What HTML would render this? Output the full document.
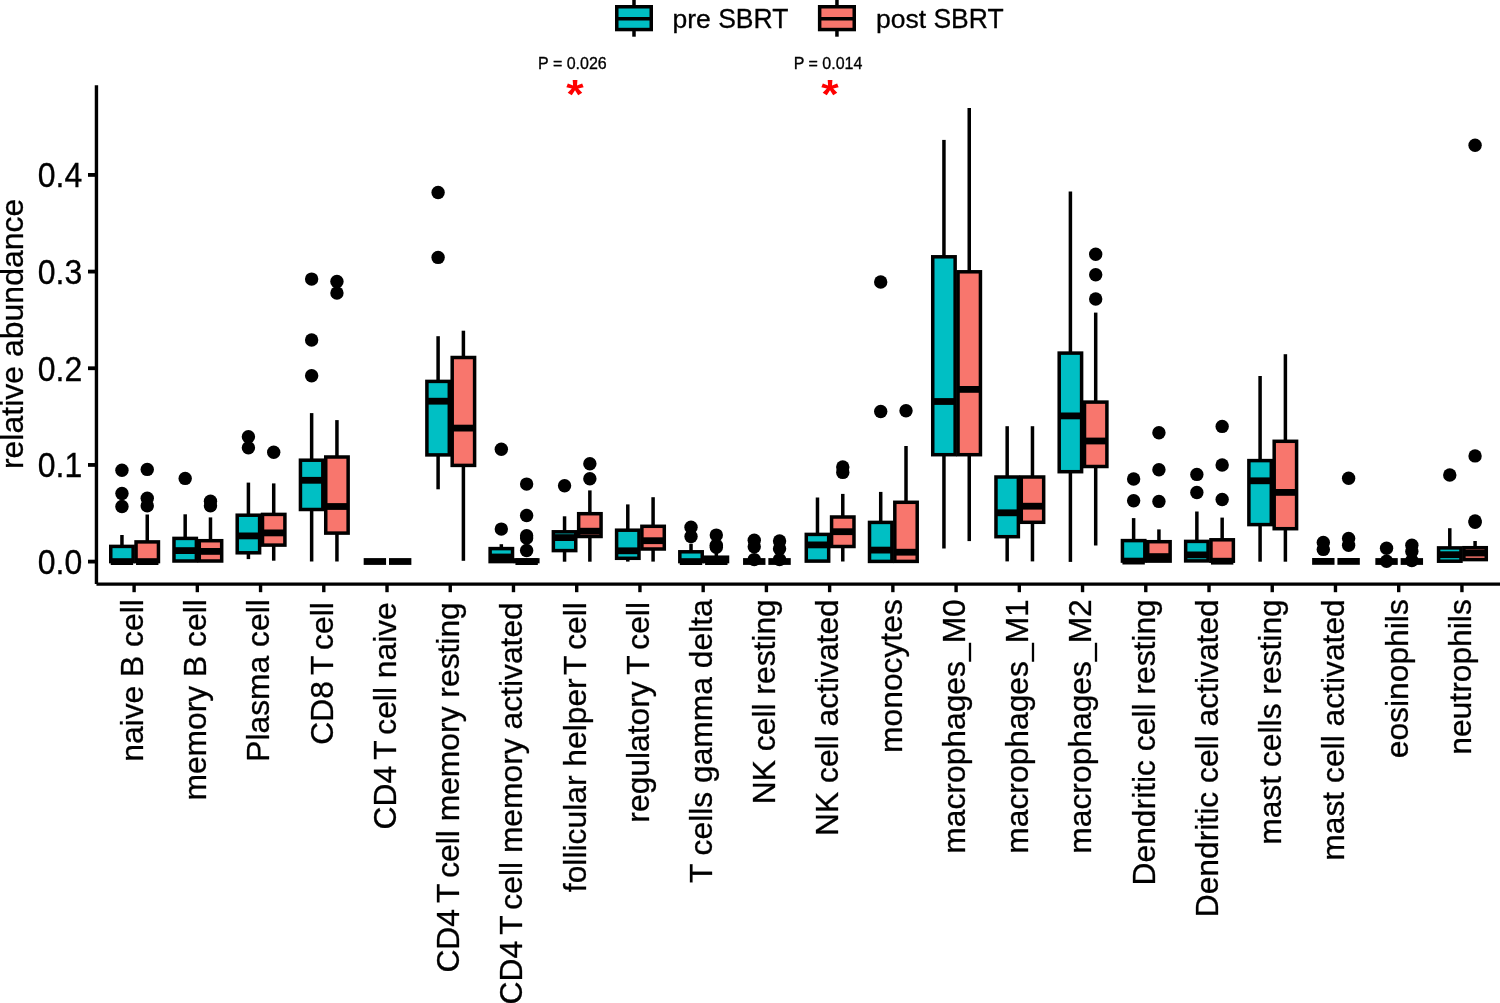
<!DOCTYPE html><html><head><meta charset="utf-8"><style>html,body{margin:0;padding:0;background:#fff;overflow:hidden;width:1500px;height:1003px;}svg{display:block;will-change:transform;}text{font-family:"Liberation Sans",sans-serif;stroke:#000;stroke-width:0.3px;}</style></head><body>
<svg width="1500" height="1003" viewBox="0 0 1500 1003">
<rect x="0" y="0" width="1500" height="1003" fill="#fff"/>
<circle cx="121.95" cy="470.3" r="6.7" fill="#000"/>
<circle cx="121.95" cy="493.5" r="6.7" fill="#000"/>
<circle cx="121.95" cy="506.5" r="6.7" fill="#000"/>
<line x1="121.95" y1="535" x2="121.95" y2="546.4" stroke="#000" stroke-width="3.5"/>
<rect x="110.75" y="546.4" width="22.4" height="15.2" fill="#00BFC4" stroke="#000" stroke-width="3.5" stroke-linejoin="miter"/>
<line x1="110.75" y1="561.6" x2="133.15" y2="561.6" stroke="#000" stroke-width="6.8"/>
<circle cx="147.25" cy="469.4" r="6.7" fill="#000"/>
<circle cx="147.25" cy="498.3" r="6.7" fill="#000"/>
<circle cx="147.25" cy="505.8" r="6.7" fill="#000"/>
<line x1="147.25" y1="514.5" x2="147.25" y2="541.9" stroke="#000" stroke-width="3.5"/>
<rect x="136.05" y="541.9" width="22.4" height="19.7" fill="#F8766D" stroke="#000" stroke-width="3.5" stroke-linejoin="miter"/>
<line x1="136.05" y1="561.6" x2="158.45" y2="561.6" stroke="#000" stroke-width="6.8"/>
<circle cx="185.18" cy="478.4" r="6.7" fill="#000"/>
<line x1="185.18" y1="514.3" x2="185.18" y2="538.4" stroke="#000" stroke-width="3.5"/>
<rect x="173.98" y="538.4" width="22.4" height="22.6" fill="#00BFC4" stroke="#000" stroke-width="3.5" stroke-linejoin="miter"/>
<line x1="173.98" y1="550.6" x2="196.38" y2="550.6" stroke="#000" stroke-width="6.8"/>
<circle cx="210.48" cy="501.3" r="6.7" fill="#000"/>
<circle cx="210.48" cy="505.7" r="6.7" fill="#000"/>
<line x1="210.48" y1="517.4" x2="210.48" y2="540.7" stroke="#000" stroke-width="3.5"/>
<rect x="199.28" y="540.7" width="22.4" height="20.3" fill="#F8766D" stroke="#000" stroke-width="3.5" stroke-linejoin="miter"/>
<line x1="199.28" y1="551.4" x2="221.68" y2="551.4" stroke="#000" stroke-width="6.8"/>
<circle cx="248.41" cy="436.7" r="6.7" fill="#000"/>
<circle cx="248.41" cy="447.8" r="6.7" fill="#000"/>
<line x1="248.41" y1="482.6" x2="248.41" y2="515.2" stroke="#000" stroke-width="3.5"/>
<line x1="248.41" y1="552.8" x2="248.41" y2="559.1" stroke="#000" stroke-width="3.5"/>
<rect x="237.21" y="515.2" width="22.4" height="37.6" fill="#00BFC4" stroke="#000" stroke-width="3.5" stroke-linejoin="miter"/>
<line x1="237.21" y1="535.9" x2="259.61" y2="535.9" stroke="#000" stroke-width="6.8"/>
<circle cx="273.71" cy="452.2" r="6.7" fill="#000"/>
<line x1="273.71" y1="483.4" x2="273.71" y2="514.4" stroke="#000" stroke-width="3.5"/>
<line x1="273.71" y1="545.1" x2="273.71" y2="560.7" stroke="#000" stroke-width="3.5"/>
<rect x="262.51" y="514.4" width="22.4" height="30.7" fill="#F8766D" stroke="#000" stroke-width="3.5" stroke-linejoin="miter"/>
<line x1="262.51" y1="532.9" x2="284.91" y2="532.9" stroke="#000" stroke-width="6.8"/>
<circle cx="311.64" cy="279.1" r="6.7" fill="#000"/>
<circle cx="311.64" cy="340" r="6.7" fill="#000"/>
<circle cx="311.64" cy="375.8" r="6.7" fill="#000"/>
<line x1="311.64" y1="413.1" x2="311.64" y2="460.2" stroke="#000" stroke-width="3.5"/>
<line x1="311.64" y1="509.5" x2="311.64" y2="561.5" stroke="#000" stroke-width="3.5"/>
<rect x="300.44" y="460.2" width="22.4" height="49.3" fill="#00BFC4" stroke="#000" stroke-width="3.5" stroke-linejoin="miter"/>
<line x1="300.44" y1="480.3" x2="322.84" y2="480.3" stroke="#000" stroke-width="6.8"/>
<circle cx="336.94" cy="281.4" r="6.7" fill="#000"/>
<circle cx="336.94" cy="293" r="6.7" fill="#000"/>
<line x1="336.94" y1="420.1" x2="336.94" y2="457" stroke="#000" stroke-width="3.5"/>
<line x1="336.94" y1="533.1" x2="336.94" y2="561.5" stroke="#000" stroke-width="3.5"/>
<rect x="325.74" y="457" width="22.4" height="76.1" fill="#F8766D" stroke="#000" stroke-width="3.5" stroke-linejoin="miter"/>
<line x1="325.74" y1="506.5" x2="348.14" y2="506.5" stroke="#000" stroke-width="6.8"/>
<line x1="363.67" y1="561.5" x2="386.07" y2="561.5" stroke="#000" stroke-width="6.8"/>
<line x1="388.97" y1="561.5" x2="411.37" y2="561.5" stroke="#000" stroke-width="6.8"/>
<circle cx="438.1" cy="192.5" r="6.7" fill="#000"/>
<circle cx="438.1" cy="257.4" r="6.7" fill="#000"/>
<line x1="438.1" y1="336.2" x2="438.1" y2="381.4" stroke="#000" stroke-width="3.5"/>
<line x1="438.1" y1="454.9" x2="438.1" y2="489.3" stroke="#000" stroke-width="3.5"/>
<rect x="426.9" y="381.4" width="22.4" height="73.5" fill="#00BFC4" stroke="#000" stroke-width="3.5" stroke-linejoin="miter"/>
<line x1="426.9" y1="401.2" x2="449.3" y2="401.2" stroke="#000" stroke-width="6.8"/>
<line x1="463.4" y1="330.7" x2="463.4" y2="357.5" stroke="#000" stroke-width="3.5"/>
<line x1="463.4" y1="465.4" x2="463.4" y2="560.8" stroke="#000" stroke-width="3.5"/>
<rect x="452.2" y="357.5" width="22.4" height="107.9" fill="#F8766D" stroke="#000" stroke-width="3.5" stroke-linejoin="miter"/>
<line x1="452.2" y1="428.1" x2="474.6" y2="428.1" stroke="#000" stroke-width="6.8"/>
<circle cx="501.33" cy="449.2" r="6.7" fill="#000"/>
<circle cx="501.33" cy="529.1" r="6.7" fill="#000"/>
<line x1="501.33" y1="544.2" x2="501.33" y2="548.6" stroke="#000" stroke-width="3.5"/>
<rect x="490.13" y="548.6" width="22.4" height="13" fill="#00BFC4" stroke="#000" stroke-width="3.5" stroke-linejoin="miter"/>
<line x1="490.13" y1="557" x2="512.53" y2="557" stroke="#000" stroke-width="6.8"/>
<circle cx="526.63" cy="484.1" r="6.7" fill="#000"/>
<circle cx="526.63" cy="515.5" r="6.7" fill="#000"/>
<circle cx="526.63" cy="535.8" r="6.7" fill="#000"/>
<circle cx="526.63" cy="538" r="6.7" fill="#000"/>
<circle cx="526.63" cy="550.5" r="6.7" fill="#000"/>
<rect x="515.43" y="559.9" width="22.4" height="1.7" fill="#F8766D" stroke="#000" stroke-width="3.5" stroke-linejoin="miter"/>
<line x1="515.43" y1="561.6" x2="537.83" y2="561.6" stroke="#000" stroke-width="6.8"/>
<circle cx="564.56" cy="485.8" r="6.7" fill="#000"/>
<line x1="564.56" y1="516.3" x2="564.56" y2="531.8" stroke="#000" stroke-width="3.5"/>
<line x1="564.56" y1="550.6" x2="564.56" y2="561.7" stroke="#000" stroke-width="3.5"/>
<rect x="553.36" y="531.8" width="22.4" height="18.8" fill="#00BFC4" stroke="#000" stroke-width="3.5" stroke-linejoin="miter"/>
<line x1="553.36" y1="537.6" x2="575.76" y2="537.6" stroke="#000" stroke-width="6.8"/>
<circle cx="589.86" cy="463.8" r="6.7" fill="#000"/>
<circle cx="589.86" cy="478.7" r="6.7" fill="#000"/>
<line x1="589.86" y1="490.4" x2="589.86" y2="513.7" stroke="#000" stroke-width="3.5"/>
<line x1="589.86" y1="536.5" x2="589.86" y2="561.7" stroke="#000" stroke-width="3.5"/>
<rect x="578.66" y="513.7" width="22.4" height="22.8" fill="#F8766D" stroke="#000" stroke-width="3.5" stroke-linejoin="miter"/>
<line x1="578.66" y1="531.2" x2="601.06" y2="531.2" stroke="#000" stroke-width="6.8"/>
<line x1="627.79" y1="504.4" x2="627.79" y2="530.2" stroke="#000" stroke-width="3.5"/>
<line x1="627.79" y1="558.3" x2="627.79" y2="561.6" stroke="#000" stroke-width="3.5"/>
<rect x="616.59" y="530.2" width="22.4" height="28.1" fill="#00BFC4" stroke="#000" stroke-width="3.5" stroke-linejoin="miter"/>
<line x1="616.59" y1="550.8" x2="638.99" y2="550.8" stroke="#000" stroke-width="6.8"/>
<line x1="653.09" y1="497.2" x2="653.09" y2="526.3" stroke="#000" stroke-width="3.5"/>
<line x1="653.09" y1="549" x2="653.09" y2="561.6" stroke="#000" stroke-width="3.5"/>
<rect x="641.89" y="526.3" width="22.4" height="22.7" fill="#F8766D" stroke="#000" stroke-width="3.5" stroke-linejoin="miter"/>
<line x1="641.89" y1="540.7" x2="664.29" y2="540.7" stroke="#000" stroke-width="6.8"/>
<circle cx="691.02" cy="527.2" r="6.7" fill="#000"/>
<circle cx="691.02" cy="536.6" r="6.7" fill="#000"/>
<line x1="691.02" y1="543.7" x2="691.02" y2="551.8" stroke="#000" stroke-width="3.5"/>
<rect x="679.82" y="551.8" width="22.4" height="9.8" fill="#00BFC4" stroke="#000" stroke-width="3.5" stroke-linejoin="miter"/>
<line x1="679.82" y1="561.6" x2="702.22" y2="561.6" stroke="#000" stroke-width="6.8"/>
<circle cx="716.32" cy="535.1" r="6.7" fill="#000"/>
<circle cx="716.32" cy="545.3" r="6.7" fill="#000"/>
<circle cx="716.32" cy="547.3" r="6.7" fill="#000"/>
<line x1="716.32" y1="553" x2="716.32" y2="557.2" stroke="#000" stroke-width="3.5"/>
<rect x="705.12" y="557.2" width="22.4" height="4.4" fill="#F8766D" stroke="#000" stroke-width="3.5" stroke-linejoin="miter"/>
<line x1="705.12" y1="561.6" x2="727.52" y2="561.6" stroke="#000" stroke-width="6.8"/>
<circle cx="754.25" cy="540.2" r="6.7" fill="#000"/>
<circle cx="754.25" cy="546.7" r="6.7" fill="#000"/>
<circle cx="754.25" cy="559.6" r="6.7" fill="#000"/>
<line x1="743.05" y1="561.5" x2="765.45" y2="561.5" stroke="#000" stroke-width="6.8"/>
<circle cx="779.55" cy="541" r="6.7" fill="#000"/>
<circle cx="779.55" cy="548.7" r="6.7" fill="#000"/>
<circle cx="779.55" cy="559.6" r="6.7" fill="#000"/>
<line x1="768.35" y1="561.5" x2="790.75" y2="561.5" stroke="#000" stroke-width="6.8"/>
<line x1="817.48" y1="497.5" x2="817.48" y2="534.4" stroke="#000" stroke-width="3.5"/>
<rect x="806.28" y="534.4" width="22.4" height="26.7" fill="#00BFC4" stroke="#000" stroke-width="3.5" stroke-linejoin="miter"/>
<line x1="806.28" y1="544.9" x2="828.68" y2="544.9" stroke="#000" stroke-width="6.8"/>
<circle cx="842.78" cy="467" r="6.7" fill="#000"/>
<circle cx="842.78" cy="472.4" r="6.7" fill="#000"/>
<line x1="842.78" y1="493.9" x2="842.78" y2="517" stroke="#000" stroke-width="3.5"/>
<line x1="842.78" y1="546.5" x2="842.78" y2="561.5" stroke="#000" stroke-width="3.5"/>
<rect x="831.58" y="517" width="22.4" height="29.5" fill="#F8766D" stroke="#000" stroke-width="3.5" stroke-linejoin="miter"/>
<line x1="831.58" y1="531.7" x2="853.98" y2="531.7" stroke="#000" stroke-width="6.8"/>
<circle cx="880.71" cy="282" r="6.7" fill="#000"/>
<circle cx="880.71" cy="411.5" r="6.7" fill="#000"/>
<line x1="880.71" y1="491.9" x2="880.71" y2="522.4" stroke="#000" stroke-width="3.5"/>
<rect x="869.51" y="522.4" width="22.4" height="39" fill="#00BFC4" stroke="#000" stroke-width="3.5" stroke-linejoin="miter"/>
<line x1="869.51" y1="550.1" x2="891.91" y2="550.1" stroke="#000" stroke-width="6.8"/>
<circle cx="906.01" cy="410.7" r="6.7" fill="#000"/>
<line x1="906.01" y1="446" x2="906.01" y2="502.3" stroke="#000" stroke-width="3.5"/>
<rect x="894.81" y="502.3" width="22.4" height="59.1" fill="#F8766D" stroke="#000" stroke-width="3.5" stroke-linejoin="miter"/>
<line x1="894.81" y1="552.2" x2="917.21" y2="552.2" stroke="#000" stroke-width="6.8"/>
<line x1="943.94" y1="139.9" x2="943.94" y2="256.8" stroke="#000" stroke-width="3.5"/>
<line x1="943.94" y1="454.7" x2="943.94" y2="548.5" stroke="#000" stroke-width="3.5"/>
<rect x="932.74" y="256.8" width="22.4" height="197.9" fill="#00BFC4" stroke="#000" stroke-width="3.5" stroke-linejoin="miter"/>
<line x1="932.74" y1="401.5" x2="955.14" y2="401.5" stroke="#000" stroke-width="6.8"/>
<line x1="969.24" y1="108" x2="969.24" y2="271.8" stroke="#000" stroke-width="3.5"/>
<line x1="969.24" y1="454.7" x2="969.24" y2="541.1" stroke="#000" stroke-width="3.5"/>
<rect x="958.04" y="271.8" width="22.4" height="182.9" fill="#F8766D" stroke="#000" stroke-width="3.5" stroke-linejoin="miter"/>
<line x1="958.04" y1="389.4" x2="980.44" y2="389.4" stroke="#000" stroke-width="6.8"/>
<line x1="1007.17" y1="426.2" x2="1007.17" y2="477" stroke="#000" stroke-width="3.5"/>
<line x1="1007.17" y1="536.7" x2="1007.17" y2="561.4" stroke="#000" stroke-width="3.5"/>
<rect x="995.97" y="477" width="22.4" height="59.7" fill="#00BFC4" stroke="#000" stroke-width="3.5" stroke-linejoin="miter"/>
<line x1="995.97" y1="512.8" x2="1018.37" y2="512.8" stroke="#000" stroke-width="6.8"/>
<line x1="1032.47" y1="426.2" x2="1032.47" y2="477" stroke="#000" stroke-width="3.5"/>
<line x1="1032.47" y1="522.3" x2="1032.47" y2="561.4" stroke="#000" stroke-width="3.5"/>
<rect x="1021.27" y="477" width="22.4" height="45.3" fill="#F8766D" stroke="#000" stroke-width="3.5" stroke-linejoin="miter"/>
<line x1="1021.27" y1="506.2" x2="1043.67" y2="506.2" stroke="#000" stroke-width="6.8"/>
<line x1="1070.4" y1="191.4" x2="1070.4" y2="353.1" stroke="#000" stroke-width="3.5"/>
<line x1="1070.4" y1="471.7" x2="1070.4" y2="561.9" stroke="#000" stroke-width="3.5"/>
<rect x="1059.2" y="353.1" width="22.4" height="118.6" fill="#00BFC4" stroke="#000" stroke-width="3.5" stroke-linejoin="miter"/>
<line x1="1059.2" y1="415.9" x2="1081.6" y2="415.9" stroke="#000" stroke-width="6.8"/>
<circle cx="1095.7" cy="254.3" r="6.7" fill="#000"/>
<circle cx="1095.7" cy="274.7" r="6.7" fill="#000"/>
<circle cx="1095.7" cy="299" r="6.7" fill="#000"/>
<line x1="1095.7" y1="312.6" x2="1095.7" y2="402.1" stroke="#000" stroke-width="3.5"/>
<line x1="1095.7" y1="466.5" x2="1095.7" y2="545.5" stroke="#000" stroke-width="3.5"/>
<rect x="1084.5" y="402.1" width="22.4" height="64.4" fill="#F8766D" stroke="#000" stroke-width="3.5" stroke-linejoin="miter"/>
<line x1="1084.5" y1="441" x2="1106.9" y2="441" stroke="#000" stroke-width="6.8"/>
<circle cx="1133.63" cy="479" r="6.7" fill="#000"/>
<circle cx="1133.63" cy="500.7" r="6.7" fill="#000"/>
<line x1="1133.63" y1="518.1" x2="1133.63" y2="540.6" stroke="#000" stroke-width="3.5"/>
<rect x="1122.43" y="540.6" width="22.4" height="20.5" fill="#00BFC4" stroke="#000" stroke-width="3.5" stroke-linejoin="miter"/>
<line x1="1122.43" y1="561.1" x2="1144.83" y2="561.1" stroke="#000" stroke-width="6.8"/>
<circle cx="1158.93" cy="432.7" r="6.7" fill="#000"/>
<circle cx="1158.93" cy="469.8" r="6.7" fill="#000"/>
<circle cx="1158.93" cy="501.4" r="6.7" fill="#000"/>
<line x1="1158.93" y1="529.4" x2="1158.93" y2="541.7" stroke="#000" stroke-width="3.5"/>
<rect x="1147.73" y="541.7" width="22.4" height="19.4" fill="#F8766D" stroke="#000" stroke-width="3.5" stroke-linejoin="miter"/>
<line x1="1147.73" y1="556.6" x2="1170.13" y2="556.6" stroke="#000" stroke-width="6.8"/>
<circle cx="1196.86" cy="474.4" r="6.7" fill="#000"/>
<circle cx="1196.86" cy="492.5" r="6.7" fill="#000"/>
<line x1="1196.86" y1="511.5" x2="1196.86" y2="541.4" stroke="#000" stroke-width="3.5"/>
<rect x="1185.66" y="541.4" width="22.4" height="19.5" fill="#00BFC4" stroke="#000" stroke-width="3.5" stroke-linejoin="miter"/>
<line x1="1185.66" y1="554.9" x2="1208.06" y2="554.9" stroke="#000" stroke-width="6.8"/>
<circle cx="1222.16" cy="426.4" r="6.7" fill="#000"/>
<circle cx="1222.16" cy="465" r="6.7" fill="#000"/>
<circle cx="1222.16" cy="499.5" r="6.7" fill="#000"/>
<line x1="1222.16" y1="517.6" x2="1222.16" y2="539.8" stroke="#000" stroke-width="3.5"/>
<rect x="1210.96" y="539.8" width="22.4" height="21.4" fill="#F8766D" stroke="#000" stroke-width="3.5" stroke-linejoin="miter"/>
<line x1="1210.96" y1="561.2" x2="1233.36" y2="561.2" stroke="#000" stroke-width="6.8"/>
<line x1="1260.09" y1="376" x2="1260.09" y2="460.6" stroke="#000" stroke-width="3.5"/>
<line x1="1260.09" y1="524.6" x2="1260.09" y2="561.7" stroke="#000" stroke-width="3.5"/>
<rect x="1248.89" y="460.6" width="22.4" height="64" fill="#00BFC4" stroke="#000" stroke-width="3.5" stroke-linejoin="miter"/>
<line x1="1248.89" y1="480.8" x2="1271.29" y2="480.8" stroke="#000" stroke-width="6.8"/>
<line x1="1285.39" y1="354.2" x2="1285.39" y2="441.3" stroke="#000" stroke-width="3.5"/>
<line x1="1285.39" y1="528.7" x2="1285.39" y2="561.7" stroke="#000" stroke-width="3.5"/>
<rect x="1274.19" y="441.3" width="22.4" height="87.4" fill="#F8766D" stroke="#000" stroke-width="3.5" stroke-linejoin="miter"/>
<line x1="1274.19" y1="492.4" x2="1296.59" y2="492.4" stroke="#000" stroke-width="6.8"/>
<circle cx="1323.32" cy="542.5" r="6.7" fill="#000"/>
<circle cx="1323.32" cy="549.4" r="6.7" fill="#000"/>
<line x1="1312.12" y1="561.4" x2="1334.52" y2="561.4" stroke="#000" stroke-width="6.8"/>
<circle cx="1348.62" cy="478.3" r="6.7" fill="#000"/>
<circle cx="1348.62" cy="538.5" r="6.7" fill="#000"/>
<circle cx="1348.62" cy="545.3" r="6.7" fill="#000"/>
<line x1="1337.42" y1="561.4" x2="1359.82" y2="561.4" stroke="#000" stroke-width="6.8"/>
<circle cx="1386.55" cy="548.2" r="6.7" fill="#000"/>
<circle cx="1386.55" cy="561.3" r="6.7" fill="#000"/>
<line x1="1375.35" y1="561.5" x2="1397.75" y2="561.5" stroke="#000" stroke-width="6.8"/>
<circle cx="1411.85" cy="545.3" r="6.7" fill="#000"/>
<circle cx="1411.85" cy="551.5" r="6.7" fill="#000"/>
<circle cx="1411.85" cy="560.6" r="6.7" fill="#000"/>
<line x1="1400.65" y1="561.5" x2="1423.05" y2="561.5" stroke="#000" stroke-width="6.8"/>
<circle cx="1449.78" cy="475" r="6.7" fill="#000"/>
<line x1="1449.78" y1="528.2" x2="1449.78" y2="547.9" stroke="#000" stroke-width="3.5"/>
<rect x="1438.58" y="547.9" width="22.4" height="13.3" fill="#00BFC4" stroke="#000" stroke-width="3.5" stroke-linejoin="miter"/>
<line x1="1438.58" y1="554.7" x2="1460.98" y2="554.7" stroke="#000" stroke-width="6.8"/>
<circle cx="1475.08" cy="145.2" r="6.7" fill="#000"/>
<circle cx="1475.08" cy="455.9" r="6.7" fill="#000"/>
<circle cx="1475.08" cy="520.9" r="6.7" fill="#000"/>
<circle cx="1475.08" cy="522.3" r="6.7" fill="#000"/>
<line x1="1475.08" y1="541" x2="1475.08" y2="547.7" stroke="#000" stroke-width="3.5"/>
<rect x="1463.88" y="547.7" width="22.4" height="11.9" fill="#F8766D" stroke="#000" stroke-width="3.5" stroke-linejoin="miter"/>
<line x1="1463.88" y1="553" x2="1486.28" y2="553" stroke="#000" stroke-width="6.8"/>
<line x1="96.45" y1="85.2" x2="96.45" y2="584.1" stroke="#000" stroke-width="3.4"/>
<line x1="96.45" y1="584.1" x2="1500" y2="584.1" stroke="#000" stroke-width="3.4"/>
<line x1="88" y1="561.6" x2="96.45" y2="561.6" stroke="#000" stroke-width="3.8"/>
<text transform="translate(82.2,561.5) scale(1,1.085)" y="11.5" font-size="32" text-anchor="end">0.0</text>
<line x1="88" y1="464.93" x2="96.45" y2="464.93" stroke="#000" stroke-width="3.8"/>
<text transform="translate(82.2,464.83) scale(1,1.085)" y="11.5" font-size="32" text-anchor="end">0.1</text>
<line x1="88" y1="368.26" x2="96.45" y2="368.26" stroke="#000" stroke-width="3.8"/>
<text transform="translate(82.2,368.16) scale(1,1.085)" y="11.5" font-size="32" text-anchor="end">0.2</text>
<line x1="88" y1="271.59" x2="96.45" y2="271.59" stroke="#000" stroke-width="3.8"/>
<text transform="translate(82.2,271.49) scale(1,1.085)" y="11.5" font-size="32" text-anchor="end">0.3</text>
<line x1="88" y1="174.92" x2="96.45" y2="174.92" stroke="#000" stroke-width="3.8"/>
<text transform="translate(82.2,174.82) scale(1,1.085)" y="11.5" font-size="32" text-anchor="end">0.4</text>
<line x1="134.1" y1="584.1" x2="134.1" y2="592.2" stroke="#000" stroke-width="3.4"/>
<text transform="translate(142.9,599.2) rotate(-90) scale(0.994,1)" font-size="32" text-anchor="end">naive B cell</text>
<line x1="197.33" y1="584.1" x2="197.33" y2="592.2" stroke="#000" stroke-width="3.4"/>
<text transform="translate(206.13,599.2) rotate(-90) scale(0.994,1)" font-size="32" text-anchor="end">memory B cell</text>
<line x1="260.56" y1="584.1" x2="260.56" y2="592.2" stroke="#000" stroke-width="3.4"/>
<text transform="translate(269.36,599.2) rotate(-90) scale(0.994,1)" font-size="32" text-anchor="end">Plasma cell</text>
<line x1="323.79" y1="584.1" x2="323.79" y2="592.2" stroke="#000" stroke-width="3.4"/>
<text transform="translate(332.59,602.2) rotate(-90) scale(0.994,1)" font-size="32" text-anchor="end">CD8 <tspan dx="-2.8">T</tspan><tspan dx="-3.2"> </tspan>cell</text>
<line x1="387.02" y1="584.1" x2="387.02" y2="592.2" stroke="#000" stroke-width="3.4"/>
<text transform="translate(395.82,602.2) rotate(-90) scale(0.994,1)" font-size="32" text-anchor="end">CD4 <tspan dx="-2.8">T</tspan><tspan dx="-3.2"> </tspan>cell naive</text>
<line x1="450.25" y1="584.1" x2="450.25" y2="592.2" stroke="#000" stroke-width="3.4"/>
<text transform="translate(459.05,602.2) rotate(-90) scale(0.994,1)" font-size="32" text-anchor="end">CD4 <tspan dx="-2.8">T</tspan><tspan dx="-3.2"> </tspan>cell memory resting</text>
<line x1="513.48" y1="584.1" x2="513.48" y2="592.2" stroke="#000" stroke-width="3.4"/>
<text transform="translate(522.28,602.2) rotate(-90) scale(0.994,1)" font-size="32" text-anchor="end">CD4 <tspan dx="-2.8">T</tspan><tspan dx="-3.2"> </tspan>cell memory activated</text>
<line x1="576.71" y1="584.1" x2="576.71" y2="592.2" stroke="#000" stroke-width="3.4"/>
<text transform="translate(585.51,602.15) rotate(-90) scale(0.994,1)" font-size="32" text-anchor="end">follicular helper <tspan dx="-5.5">T</tspan><tspan dx="-3.2"> </tspan>cell</text>
<line x1="639.94" y1="584.1" x2="639.94" y2="592.2" stroke="#000" stroke-width="3.4"/>
<text transform="translate(648.74,602) rotate(-90) scale(0.994,1)" font-size="32" text-anchor="end">regulatory <tspan dx="-2.4">T</tspan><tspan dx="-3.2"> </tspan>cell</text>
<line x1="703.17" y1="584.1" x2="703.17" y2="592.2" stroke="#000" stroke-width="3.4"/>
<text transform="translate(711.97,599.2) rotate(-90) scale(0.994,1)" font-size="32" text-anchor="end">T cells gamma delta</text>
<line x1="766.4" y1="584.1" x2="766.4" y2="592.2" stroke="#000" stroke-width="3.4"/>
<text transform="translate(775.2,599.2) rotate(-90) scale(0.994,1)" font-size="32" text-anchor="end">NK cell resting</text>
<line x1="829.63" y1="584.1" x2="829.63" y2="592.2" stroke="#000" stroke-width="3.4"/>
<text transform="translate(838.43,599.2) rotate(-90) scale(0.994,1)" font-size="32" text-anchor="end">NK cell activated</text>
<line x1="892.86" y1="584.1" x2="892.86" y2="592.2" stroke="#000" stroke-width="3.4"/>
<text transform="translate(901.66,599.2) rotate(-90) scale(0.994,1)" font-size="32" text-anchor="end">monocytes</text>
<line x1="956.09" y1="584.1" x2="956.09" y2="592.2" stroke="#000" stroke-width="3.4"/>
<text transform="translate(964.89,599.2) rotate(-90) scale(0.994,1)" font-size="32" text-anchor="end">macrophages_M0</text>
<line x1="1019.32" y1="584.1" x2="1019.32" y2="592.2" stroke="#000" stroke-width="3.4"/>
<text transform="translate(1028.12,599.2) rotate(-90) scale(0.994,1)" font-size="32" text-anchor="end">macrophages_M1</text>
<line x1="1082.55" y1="584.1" x2="1082.55" y2="592.2" stroke="#000" stroke-width="3.4"/>
<text transform="translate(1091.35,599.2) rotate(-90) scale(0.994,1)" font-size="32" text-anchor="end">macrophages_M2</text>
<line x1="1145.78" y1="584.1" x2="1145.78" y2="592.2" stroke="#000" stroke-width="3.4"/>
<text transform="translate(1154.58,599.2) rotate(-90) scale(0.994,1)" font-size="32" text-anchor="end">Dendritic cell resting</text>
<line x1="1209.01" y1="584.1" x2="1209.01" y2="592.2" stroke="#000" stroke-width="3.4"/>
<text transform="translate(1217.81,599.2) rotate(-90) scale(0.994,1)" font-size="32" text-anchor="end">Dendritic cell activated</text>
<line x1="1272.24" y1="584.1" x2="1272.24" y2="592.2" stroke="#000" stroke-width="3.4"/>
<text transform="translate(1281.04,599.2) rotate(-90) scale(0.994,1)" font-size="32" text-anchor="end">mast cells resting</text>
<line x1="1335.47" y1="584.1" x2="1335.47" y2="592.2" stroke="#000" stroke-width="3.4"/>
<text transform="translate(1344.27,599.2) rotate(-90) scale(0.994,1)" font-size="32" text-anchor="end">mast cell activated</text>
<line x1="1398.7" y1="584.1" x2="1398.7" y2="592.2" stroke="#000" stroke-width="3.4"/>
<text transform="translate(1407.5,599.2) rotate(-90) scale(0.994,1)" font-size="32" text-anchor="end">eosinophils</text>
<line x1="1461.93" y1="584.1" x2="1461.93" y2="592.2" stroke="#000" stroke-width="3.4"/>
<text transform="translate(1470.73,599.2) rotate(-90) scale(0.994,1)" font-size="32" text-anchor="end">neutrophils</text>
<text transform="translate(22.8,333.9) rotate(-90)" font-size="32" text-anchor="middle">relative abundance</text>
<text x="572.4" y="69" font-size="16" text-anchor="middle">P = 0.026</text>
<text x="828" y="69" font-size="16" text-anchor="middle">P = 0.014</text>
<text transform="translate(574.85,108) scale(1.12,1)" font-size="40" font-weight="bold" fill="#FF0000" style="stroke:#FF0000;stroke-width:0" text-anchor="middle">*</text>
<text transform="translate(830,108) scale(1.12,1)" font-size="40" font-weight="bold" fill="#FF0000" style="stroke:#FF0000;stroke-width:0" text-anchor="middle">*</text>
<line x1="634" y1="-2" x2="634" y2="36.7" stroke="#000" stroke-width="3.5"/>
<rect x="616.75" y="6.75" width="34.5" height="22.8" fill="#00BFC4" stroke="#000" stroke-width="3.5"/>
<line x1="616.75" y1="18.7" x2="651.25" y2="18.7" stroke="#000" stroke-width="3.5"/>
<line x1="836.95" y1="-2" x2="836.95" y2="36.7" stroke="#000" stroke-width="3.5"/>
<rect x="819.65" y="6.75" width="34.6" height="22.8" fill="#F8766D" stroke="#000" stroke-width="3.5"/>
<line x1="819.65" y1="18.7" x2="854.25" y2="18.7" stroke="#000" stroke-width="3.5"/>
<text x="672.5" y="28" font-size="26.5">pre </text>
<text transform="translate(718.16,28) scale(1,1.06)" font-size="26.5">SBRT</text>
<text x="876" y="28" font-size="26.5">post </text>
<text transform="translate(933.45,28) scale(1,1.06)" font-size="26.5">SBRT</text>
</svg></body></html>
